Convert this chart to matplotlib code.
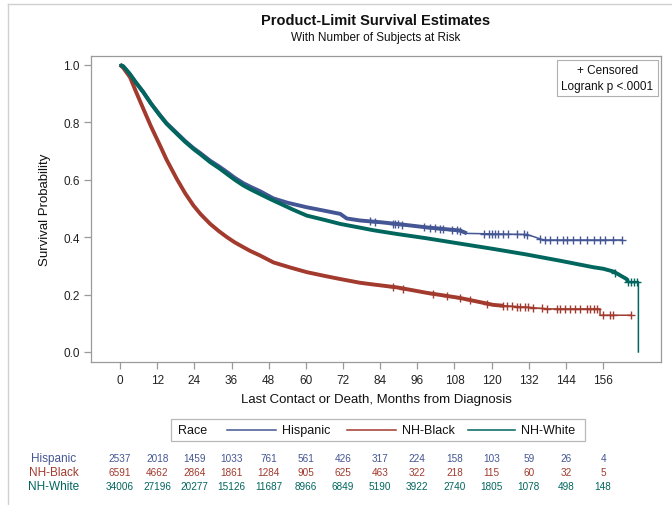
import numpy as np
import matplotlib
matplotlib.use('Agg')
import matplotlib.pyplot as plt
import matplotlib.transforms as mtransforms
from matplotlib.patches import Rectangle

plt.rcParams['font.family'] = ['Liberation Sans', 'DejaVu Sans']

# ---------------- data ----------------
groups = ['Hispanic', 'NH-Black', 'NH-White']
colors = {'Hispanic': '#445694', 'NH-Black': '#A23A2E', 'NH-White': '#01665E'}

hisp_t = [0, 1, 3, 5, 7.5, 10, 12.9, 15, 18.3, 21, 23.7, 26, 29.1, 32, 34.5, 37, 39.8, 42,
          45.2, 49.5, 54, 60.3, 66, 71.1, 73.2, 77.5, 81.8, 84, 89.4, 99, 109.8, 112,
          131.4, 133.5, 136.7, 162]
hisp_s = [1.0, 0.995, 0.97, 0.94, 0.905, 0.865, 0.825, 0.797, 0.763, 0.735, 0.71, 0.692,
          0.666, 0.646, 0.627, 0.607, 0.588, 0.576, 0.56, 0.535, 0.52, 0.504, 0.492, 0.481,
          0.465, 0.458, 0.454, 0.452, 0.446, 0.434, 0.423, 0.413, 0.409, 0.402, 0.39, 0.39]

black_t = [0, 1, 3.2, 5, 7.5, 10, 12.9, 15, 18.3, 21, 23.7, 26, 29.1, 32, 34.5, 37, 39.8, 42,
           45.2, 49.5, 55, 60.3, 66, 71.1, 77.5, 81.8, 89.4, 99, 109.8, 120.5, 123.7, 131.4,
           138, 155, 155, 165]
black_s = [1.0, 0.99, 0.957, 0.91, 0.847, 0.785, 0.719, 0.67, 0.603, 0.553, 0.51, 0.48,
           0.446, 0.42, 0.40, 0.382, 0.365, 0.352, 0.336, 0.312, 0.294, 0.278, 0.265, 0.254,
           0.241, 0.235, 0.225, 0.206, 0.188, 0.164, 0.161, 0.156, 0.15, 0.15, 0.128, 0.128]

white_t = [0, 1, 3, 5, 7.5, 10, 12.9, 15, 18.3, 21, 23.7, 26, 29.1, 32, 34.5, 37, 39.8, 42,
           45.2, 48.4, 52, 56, 60.3, 66, 71.1, 77.5, 81.8, 89.4, 99, 110, 120.5, 131, 142,
           152.9, 156, 159.4, 161, 163.6, 164, 167.4, 167.4]
white_s = [1.0, 0.995, 0.97, 0.94, 0.905, 0.865, 0.823, 0.795, 0.76, 0.732, 0.707, 0.688,
           0.661, 0.64, 0.62, 0.60, 0.58, 0.567, 0.55, 0.533, 0.515, 0.495, 0.475, 0.46,
           0.446, 0.433, 0.424, 0.411, 0.396, 0.377, 0.359, 0.34, 0.318, 0.295, 0.29, 0.28,
           0.27, 0.254, 0.245, 0.245, 0.0]

hisp_cens = [80.7, 82.4, 88.3, 88.8, 89.9, 91, 98, 100.1, 101.7, 103.4, 104.4, 107.1, 108.7,
             109.8, 117.4, 119, 120, 121.1, 122.2, 123.8, 125.4, 128.1, 130.3, 131.4, 135.7,
             137.3, 138.9, 141, 143.2, 144.3, 146.4, 148.6, 150.7, 152.9, 155, 156.7, 159.3, 162]
black_cens = [88.3, 91.5, 101.2, 105.5, 109.8, 113, 118.4, 123.8, 124.9, 126.5, 128.1, 129.2,
              130.8, 131.9, 133.5, 136.2, 137.8, 141, 142.1, 143.7, 145.4, 147, 148.6, 150.7,
              151.8, 152.9, 153.9, 156.1, 158.3, 159.3, 165]
white_cens = [160, 164, 165, 166, 167]

dense_until = {'Hispanic': 112, 'NH-Black': 123.7, 'NH-White': 164}

risk_times = [0, 12, 24, 36, 48, 60, 72, 84, 96, 108, 120, 132, 144, 156]
hisp_risk = [2537, 2018, 1459, 1033, 761, 561, 426, 317, 224, 158, 103, 59, 26, 4]
black_risk = [6591, 4662, 2864, 1861, 1284, 905, 625, 463, 322, 218, 115, 60, 32, 5]
white_risk = [34006, 27196, 20277, 15126, 11687, 8966, 6849, 5190, 3922, 2740, 1805, 1078, 498, 148]

curves = {'Hispanic': (hisp_t, hisp_s, hisp_cens, hisp_risk),
          'NH-Black': (black_t, black_s, black_cens, black_risk),
          'NH-White': (white_t, white_s, white_cens, white_risk)}

# ---------------- figure ----------------
W, H = 672, 506
fig = plt.figure(figsize=(W / 100, H / 100), dpi=100)

def fx(x):
    return x / W

def fy(y):
    return 1 - y / H

L, R, T, B = 91, 661, 57, 363
ax = fig.add_axes([fx(L), fy(B), fx(R) - fx(L), fy(T) - fy(B)])

axis_col = '#9A9A9A'
for g in groups:
    t, s, cens, _ = curves[g]
    t = np.array(t); s = np.array(s)
    c = colors[g]
    ax.plot(t, s, color=c, lw=1.1, solid_joinstyle='miter', zorder=3)
    m = t <= dense_until[g]
    ax.plot(t[m], s[m], color=c, lw=2.8, solid_capstyle='butt', zorder=3)
    cy = []
    for ct in cens:
        idx = np.searchsorted(t, ct, side='left')
        if idx < len(t) and t[idx] == ct:
            cy.append(s[idx])
        else:
            cy.append(np.interp(ct, t, s))
    ax.plot(cens, cy, ls='none', marker='+', ms=5.5, mew=1.0, color=c, zorder=4)

ax.set_xlim(-9.4, 174.7)
ax.set_ylim(-0.035, 1.031)
ax.set_xticks(risk_times)
ax.set_yticks([0.0, 0.2, 0.4, 0.6, 0.8, 1.0])
ax.set_yticklabels(['0.0', '0.2', '0.4', '0.6', '0.8', '1.0'])
for sp in ax.spines.values():
    sp.set_color(axis_col)
    sp.set_linewidth(0.9)
ax.tick_params(axis='both', direction='out', length=5, width=0.9, color=axis_col,
               labelsize=8.5, labelcolor='#222222', pad=3)
ax.tick_params(axis='x', pad=4)
ax.set_xlabel('Last Contact or Death, Months from Diagnosis', fontsize=9.5, labelpad=5,
              color='#111111')
ax.set_ylabel('Survival Probability', fontsize=9.5, labelpad=9, color='#111111')

ax.text(0.906, 0.975, '+ Censored\nLogrank p <.0001', transform=ax.transAxes,
        ha='center', va='top', fontsize=8.5, linespacing=1.45, color='#111111',
        bbox=dict(boxstyle='square,pad=0.35', fc='white', ec='#B0B0B0', lw=0.8))

# overlay in pixel coordinates for titles, legend and risk table
ov = fig.add_axes([0, 0, 1, 1], zorder=-1)
ov.set_xlim(0, W)
ov.set_ylim(H, 0)
ov.axis('off')
ov.patch.set_alpha(0)

ov.plot([8, 8], [H + 5, 5], color='#D0D0D0', lw=1)
ov.plot([8, W + 5], [5, 5], color='#D0D0D0', lw=1)

ov.text(376, 21, 'Product-Limit Survival Estimates', ha='center', va='center',
        fontsize=10.5, fontweight='bold', color='#111111')
ov.text(376, 38, 'With Number of Subjects at Risk', ha='center', va='center',
        fontsize=8.5, color='#111111')

# legend box
ov.add_patch(Rectangle((171, 420), 414, 22, fc='white', ec='#B8B8B8', lw=0.9))
ov.text(178, 431, 'Race', ha='left', va='center', fontsize=9, color='#111111')
leg_x = {'Hispanic': (227, 276), 'NH-Black': (347, 396), 'NH-White': (468, 515)}
for g in groups:
    x0, x1 = leg_x[g]
    ov.plot([x0, x1], [431, 431], color=colors[g], lw=1.1)
    ov.text(x1 + 6, 431, g, ha='left', va='center', fontsize=9, color='#111111')

# at-risk table
blend = mtransforms.blended_transform_factory(ax.transData, ov.transData)
row_y = {'Hispanic': 459, 'NH-Black': 473, 'NH-White': 487}
for g in groups:
    ov.text(54, row_y[g], g, ha='center', va='center', fontsize=8.5, color=colors[g])
    for tt, n in zip(risk_times, curves[g][3]):
        ov.text(tt, row_y[g], str(n), transform=blend, ha='center', va='center',
                fontsize=7.2, color=colors[g])

fig.savefig('out.png', dpi=100)
